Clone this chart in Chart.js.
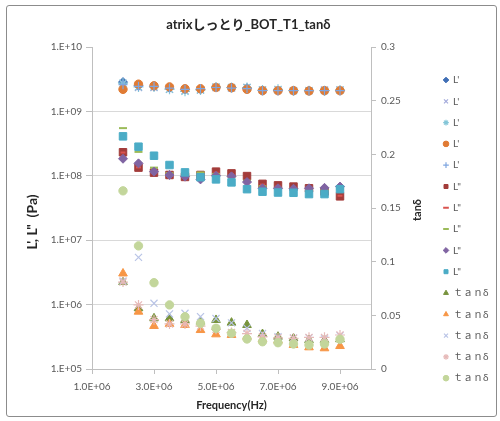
<!DOCTYPE html>
<html>
<head>
<meta charset="utf-8">
<script src="https://cdn.jsdelivr.net/npm/chart.js@4.4.1/dist/chart.umd.min.js"></script>
<style>
  html, body { margin: 0; padding: 0; background: #fff; }
  #wrap { position: relative; width: 500px; height: 421px; }
  #frame { position: absolute; left: 6px; top: 5px; width: 489px; height: 410px; border: 1px solid #8c8c8c; border-radius: 3px; pointer-events: none; }
  canvas { position: absolute; left: 0; top: 0; }
</style>
</head>
<body>
<div id="wrap">
  <canvas id="c" width="500" height="421"></canvas>
  <div id="frame"></div>
</div>
<script>
// ---- data ----
const chartTitle = 'atrixしっとり_BOT_T1_tanδ';
const xTitle = 'Frequency(Hz)';
const yTitle = 'L\', L"  (Pa)';
const y2Title = 'tanδ';

const freq = [2.0e6, 2.5e6, 3.0e6, 3.5e6, 4.0e6, 4.5e6, 5.0e6, 5.5e6, 6.0e6, 6.5e6, 7.0e6, 7.5e6, 8.0e6, 8.5e6, 9.0e6];

const xTicks = [1e6, 3e6, 5e6, 7e6, 9e6];
const yTicks = [1e5, 1e6, 1e7, 1e8, 1e9, 1e10];
const y2Ticks = [0, 0.05, 0.1, 0.15, 0.2, 0.25, 0.3];

// L' (storage)
const Lp1 = [2.85e9, 2.5e9, 2.45e9, 2.3e9, 2.2e9, 2.2e9, 2.35e9, 2.35e9, 2.3e9, 2.1e9, 2.1e9, 2.1e9, 2.1e9, 2.1e9, 2.1e9];
const Lp2 = [2.7e9, 2.35e9, 2.35e9, 2.2e9, 2.1e9, 2.15e9, 2.35e9, 2.3e9, 2.35e9, 2.15e9, 2.15e9, 2.1e9, 2.1e9, 2.15e9, 2.15e9];
const Lp3 = [2.75e9, 2.4e9, 2.4e9, 2.2e9, 2.05e9, 2.15e9, 2.4e9, 2.35e9, 2.35e9, 2.15e9, 2.2e9, 2.1e9, 2.1e9, 2.1e9, 2.15e9];
const Lp4 = [2.2e9, 2.65e9, 2.5e9, 2.4e9, 2.25e9, 2.25e9, 2.35e9, 2.33e9, 2.2e9, 2.1e9, 2.1e9, 2.1e9, 2.08e9, 2.1e9, 2.1e9];
const Lp5 = [2.6e9, 2.45e9, 2.45e9, 2.3e9, 2.2e9, 2.25e9, 2.35e9, 2.3e9, 2.25e9, 2.1e9, 2.1e9, 2.1e9, 2.1e9, 2.1e9, 2.1e9];

// L'' (loss)
const Lpp1 = [2.32e8, 1.34e8, 1.12e8, 1.03e8, 9.6e7, 1.03e8, 1.16e8, 1.09e8, 9.9e7, 7.5e7, 7.1e7, 6.8e7, 6.4e7, 5.7e7, 4.8e7];
const Lpp2 = [2.3e8, 1.35e8, 1.1e8, 1.0e8, 9.7e7, 1.0e8, 1.12e8, 1.06e8, 7.6e7, 7.3e7, 7.0e7, 6.7e7, 6.3e7, 6.0e7, 4.9e7];
const Lpp3 = [5.5e8, 2.35e8, 1.34e8, 1.1e8, 1.1e8, 1.13e8, 1.07e8, 9.7e7, 8.4e7, 6.9e7, 6.5e7, 6.3e7, 6.1e7, 6.0e7, 6.3e7];
const Lpp4 = [1.84e8, 1.56e8, 1.16e8, 1.03e8, 9.7e7, 8.8e7, 1.0e8, 9.8e7, 8.0e7, 6.4e7, 6.4e7, 6.3e7, 6.4e7, 6.5e7, 6.8e7];
const Lpp5 = [4.1e8, 2.83e8, 2.05e8, 1.47e8, 1.13e8, 9.5e7, 8.8e7, 7.9e7, 6.2e7, 5.66e7, 5.5e7, 5.45e7, 5.2e7, 5.2e7, 6.2e7];

// tan delta
const T1 = [0.081, 0.0566, 0.0472, 0.0472, 0.0457, 0.0441, 0.0457, 0.0432, 0.041, 0.0326, 0.0301, 0.0286, 0.027, 0.027, 0.0277];
const T2 = [0.089, 0.0534, 0.0401, 0.042, 0.041, 0.0363, 0.0323, 0.0317, 0.0301, 0.0277, 0.0265, 0.0224, 0.0202, 0.0193, 0.0214];
const T3 = [0.082, 0.104, 0.0612, 0.0513, 0.0519, 0.0487, 0.047, 0.043, 0.038, 0.033, 0.03, 0.029, 0.029, 0.028, 0.031];
const T4 = [0.081, 0.0597, 0.046, 0.042, 0.042, 0.04, 0.037, 0.034, 0.033, 0.03, 0.029, 0.0286, 0.0295, 0.0295, 0.0317];
const T5 = [0.166, 0.1147, 0.0804, 0.0597, 0.0487, 0.0426, 0.0379, 0.0333, 0.028, 0.0254, 0.0245, 0.0233, 0.0224, 0.0233, 0.0277];

const labelLp = "L'";
const labelLpp = 'L"';
const labelT = 'ｔａｎδ';

// ---- chart ----
const FONT = "Lato, 'Noto Sans', 'Noto Sans CJK JP', sans-serif";
Chart.defaults.font.family = FONT;
Chart.defaults.color = '#595959';

function pts(ys) { return freq.map((x, i) => ({x: x, y: ys[i]})); }

function ds(label, ys, axis, style, color, radius, bw, fill) {
  return {
    label: label, data: pts(ys), yAxisID: axis,
    pointStyle: style, pointRadius: radius,
    borderColor: color, backgroundColor: fill === false ? 'rgba(0,0,0,0)' : color,
    borderWidth: bw, showLine: false
  };
}

const datasets = [
  ds(labelLp, Lp1, 'y', 'rectRot', '#3F6EB5', 4.5, 1),
  ds(labelLp, Lp2, 'y', 'crossRot', '#A3AADB', 5, 1.2, false),
  ds(labelLp, Lp3, 'y', 'star', '#84C6D8', 5, 1.2, false),
  ds(labelLp, Lp4, 'y', 'circle', '#E07B34', 4.2, 1),
  ds(labelLp, Lp5, 'y', 'cross', '#7FA6E0', 4.5, 1.2, false),
  ds(labelLpp, Lpp1, 'y', 'rect', '#A33C3A', 5.3, 1),
  ds(labelLpp, Lpp2, 'y', 'line', '#D9534F', 2.5, 2, false),
  ds(labelLpp, Lpp3, 'y', 'line', '#9BBB59', 4, 2, false),
  ds(labelLpp, Lpp4, 'y', 'rectRot', '#8064A2', 4.5, 1),
  ds(labelLpp, Lpp5, 'y', 'rect', '#4BACC6', 5.3, 1),
  ds(labelT, T1, 'y1', 'triangle', '#77933C', 5, 1),
  ds(labelT, T2, 'y1', 'triangle', '#F79646', 5, 1),
  ds(labelT, T3, 'y1', 'crossRot', '#B9C4E6', 5, 1.2, false),
  ds(labelT, T4, 'y1', 'star', '#E6B9B8', 5, 1.2, false),
  ds(labelT, T5, 'y1', 'circle', '#C3D69B', 4.2, 1)
];
datasets.forEach((d, i) => { d.order = datasets.length - i; });

function fmtExp(v, digits) {
  const s = v.toExponential(digits);
  const m = s.split('e');
  let mant = m[0];
  if (digits === 0) mant = mant + '.';
  const e = parseInt(m[1], 10);
  const sign = e < 0 ? '-' : '+';
  const ab = Math.abs(e);
  return mant + 'E' + sign + (ab < 10 ? '0' + ab : '' + ab);
}

const axisTitlePlugin = {
  id: 'axisTitlePlugin',
  afterDraw(chart) {
    const c = chart.ctx;
    c.save();
    c.fillStyle = '#262626';
    c.textAlign = 'center';
    c.textBaseline = 'middle';
    c.font = "bold 14px " + FONT;
    c.translate(32, 222);
    c.rotate(-Math.PI / 2);
    c.fillText(yTitle, 0, 0);
    c.restore();
    c.save();
    c.fillStyle = '#262626';
    c.textAlign = 'center';
    c.textBaseline = 'middle';
    c.font = "bold 11px " + FONT;
    c.translate(417, 210);
    c.rotate(-Math.PI / 2);
    c.fillText(y2Title, 0, 0);
    c.restore();
  }
};

new Chart(document.getElementById('c'), {
  type: 'scatter',
  data: { datasets: datasets },
  plugins: [axisTitlePlugin],
  options: {
    responsive: false,
    animation: false,
    events: [],
    layout: { padding: { left: 0, top: 0, right: 3.3, bottom: 0 } },
    plugins: {
      tooltip: { enabled: false },
      title: {
        display: true, text: chartTitle, color: '#262626',
        font: { size: 13, weight: 'bold' },
        padding: { top: 17.2, bottom: 14.2 }
      },
      legend: {
        position: 'right', align: 'start', maxWidth: 64,
        title: { display: true, text: ' ', font: { size: 10 }, padding: { top: 51.7, bottom: 0 } },
        labels: {
          usePointStyle: true, boxWidth: 4, boxHeight: 4, padding: 11.3,
          color: '#595959', font: { size: 10 },
          sort: (a, b) => a.datasetIndex - b.datasetIndex
        }
      }
    },
    scales: {
      x: {
        type: 'linear', min: 1e6, max: 1e7,
        afterBuildTicks: (s) => { s.ticks = xTicks.map(v => ({ value: v })); },
        afterFit: (s) => { s.height = 52; },
        ticks: { callback: (v) => fmtExp(v, 1), font: { size: 10 }, color: '#595959', padding: 7, maxRotation: 0, autoSkip: false },
        grid: { drawOnChartArea: false, drawTicks: true, tickLength: 5, color: '#BFBFBF' },
        border: { display: true, color: '#BFBFBF' },
        title: { display: true, text: xTitle, color: '#262626', font: { size: 11, weight: 'bold' }, padding: { top: 0, bottom: 8.6 } }
      },
      y: {
        type: 'logarithmic', position: 'left', min: 1e5, max: 1e10,
        afterBuildTicks: (s) => { s.ticks = yTicks.map(v => ({ value: v })); },
        afterFit: (s) => { s.width = 92; },
        ticks: { callback: (v) => fmtExp(v, 0), font: { size: 10 }, color: '#595959', padding: 4, autoSkip: false },
        grid: {
          drawTicks: true, tickLength: 6,
          color: (ctx) => (ctx.tick && ctx.tick.value >= 1e10) ? 'rgba(0,0,0,0)' : '#D9D9D9',
          tickColor: '#BFBFBF'
        },
        border: { display: true, color: '#BFBFBF' }
      },
      y1: {
        type: 'linear', position: 'right', min: 0, max: 0.3,
        afterBuildTicks: (s) => { s.ticks = y2Ticks.map(v => ({ value: v })); },
        afterFit: (s) => { s.width = 61.7; },
        ticks: { callback: (v) => String(Math.round(v * 100) / 100), font: { size: 10 }, color: '#595959', padding: 5, autoSkip: false },
        grid: { drawOnChartArea: false, drawTicks: true, tickLength: 5, color: '#BFBFBF' },
        border: { display: true, color: '#BFBFBF' }
      }
    }
  }
});
</script>
</body>
</html>
